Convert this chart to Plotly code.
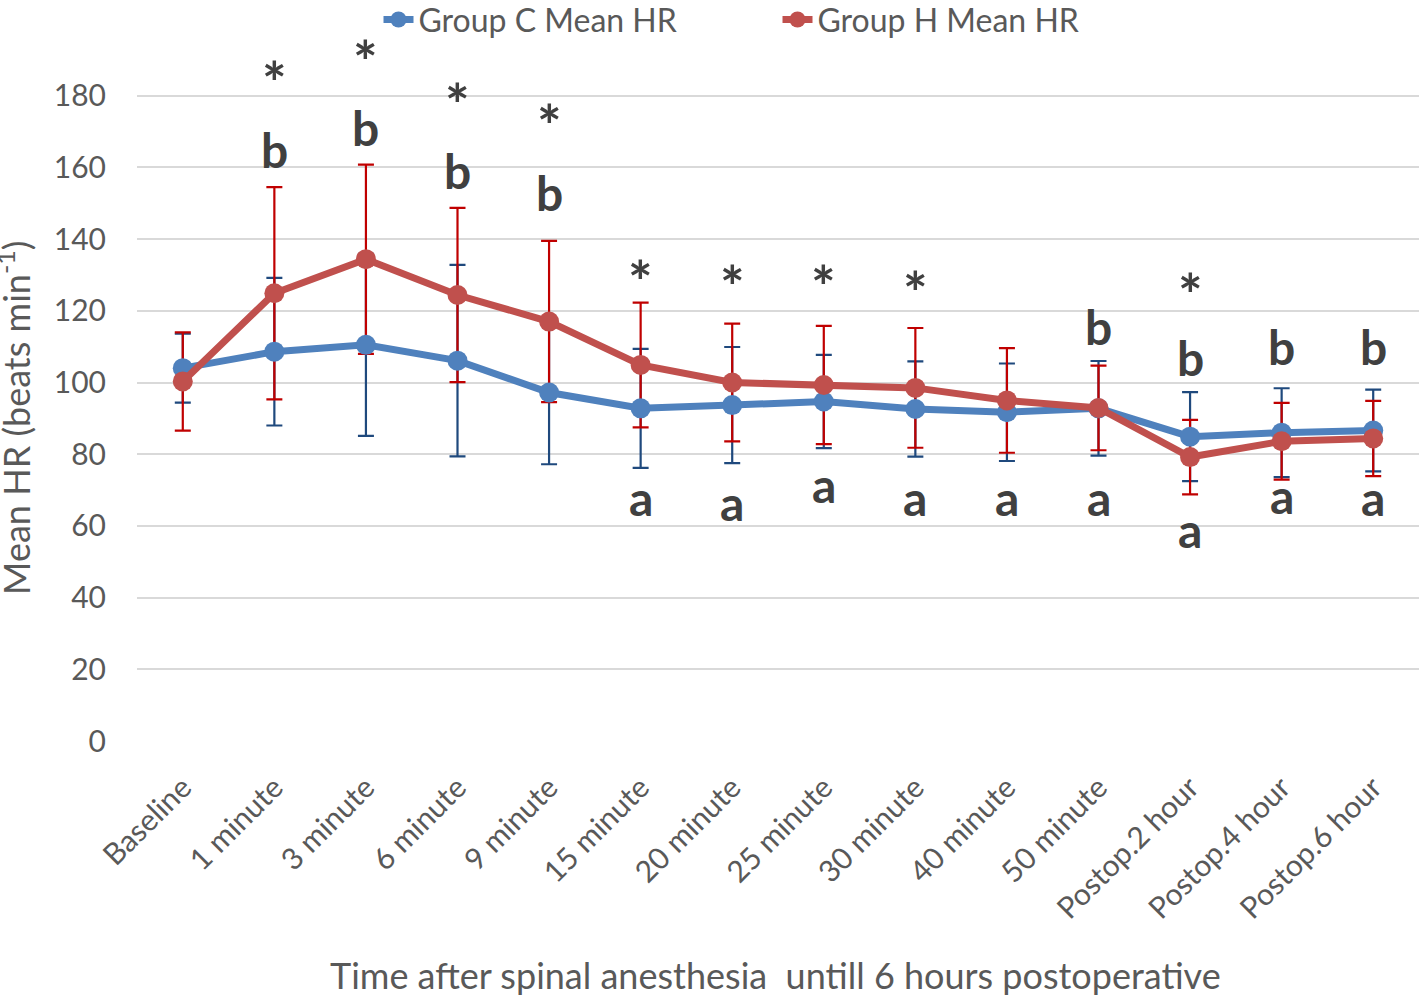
import plotly.graph_objects as go

categories = ["Baseline", "1 minute", "3 minute", "6 minute", "9 minute", "15 minute",
              "20 minute", "25 minute", "30 minute", "40 minute", "50 minute",
              "Postop.2 hour", "Postop.4 hour", "Postop.6 hour"]

c_mean = [104.0, 108.6, 110.5, 106.1, 97.2, 92.8, 93.7, 94.7, 92.6, 91.7, 92.8, 84.9, 86.0, 86.6]
c_sd = [9.6, 20.6, 25.4, 26.7, 20.0, 16.6, 16.2, 13.0, 13.3, 13.6, 13.2, 12.4, 12.4, 11.4]

h_mean = [100.3, 124.9, 134.4, 124.4, 117.0, 104.9, 100.0, 99.3, 98.5, 95.0, 92.9, 79.2, 83.6, 84.4]
h_sd = [13.7, 29.6, 26.4, 24.3, 22.5, 17.4, 16.4, 16.5, 16.7, 14.6, 11.8, 10.4, 10.7, 10.5]

# significance labels: (category, text, label height in axis units)
sig_labels = [
    ("1 minute", "*", 187), ("1 minute", "b", 165),
    ("3 minute", "*", 193), ("3 minute", "b", 171),
    ("6 minute", "*", 181), ("6 minute", "b", 159),
    ("9 minute", "*", 175), ("9 minute", "b", 153),
    ("15 minute", "*", 131.5), ("15 minute", "a", 68),
    ("20 minute", "*", 130), ("20 minute", "a", 66.5),
    ("25 minute", "*", 130), ("25 minute", "a", 71.5),
    ("30 minute", "*", 128.5), ("30 minute", "a", 68),
    ("40 minute", "a", 68),
    ("50 minute", "b", 115.5), ("50 minute", "a", 68),
    ("Postop.2 hour", "*", 128), ("Postop.2 hour", "b", 107), ("Postop.2 hour", "a", 59),
    ("Postop.4 hour", "b", 110), ("Postop.4 hour", "a", 68.5),
    ("Postop.6 hour", "b", 110), ("Postop.6 hour", "a", 68),
]

y_ticks = [0, 20, 40, 60, 80, 100, 120, 140, 160, 180]

BLUE = "#4F81BD"
RED = "#C0504D"
BLUE_ERR = "#1F497D"
RED_ERR = "#C00000"
FONT = "Lato"
GREY = "#595959"

fig = go.Figure()

# error bars first so that all markers sit above them
fig.add_trace(go.Scatter(
    x=categories, y=c_mean, mode="markers",
    marker=dict(size=1, color="rgba(0,0,0,0)"),
    error_y=dict(type="data", array=c_sd, visible=True, color=BLUE_ERR, thickness=2.2, width=8),
    showlegend=False, hoverinfo="skip"))
fig.add_trace(go.Scatter(
    x=categories, y=h_mean, mode="markers",
    marker=dict(size=1, color="rgba(0,0,0,0)"),
    error_y=dict(type="data", array=h_sd, visible=True, color=RED_ERR, thickness=2.2, width=8),
    showlegend=False, hoverinfo="skip"))

fig.add_trace(go.Scatter(
    x=categories, y=c_mean, mode="lines+markers", name="Group C Mean HR",
    line=dict(color=BLUE, width=7), marker=dict(color=BLUE, size=20)))
fig.add_trace(go.Scatter(
    x=categories, y=h_mean, mode="lines+markers", name="Group H Mean HR",
    line=dict(color=RED, width=7), marker=dict(color=RED, size=20)))

for cat, txt, yv in sig_labels:
    star = txt == "*"
    fig.add_annotation(x=cat, y=yv, text=txt, showarrow=False,
                       font=dict(family=FONT, size=58 if star else 48, color="#404040", weight="bold"),
                       xanchor="center", yanchor="middle", yshift=-11 if star else 0)

fig.add_annotation(xref="paper", yref="paper", x=0.498, y=-0.326,
                   text="Time after spinal anesthesia  untill 6 hours postoperative",
                   showarrow=False, xanchor="center", yanchor="middle",
                   font=dict(family=FONT, size=36, color=GREY))
fig.add_annotation(xref="paper", yref="paper", x=-0.0955, y=0.45,
                   text="Mean HR (beats min<sup>-1</sup>)", textangle=-90,
                   showarrow=False, xanchor="center", yanchor="middle",
                   font=dict(family=FONT, size=36, color=GREY))

fig.update_layout(
    width=1424, height=996,
    paper_bgcolor="white", plot_bgcolor="white",
    margin=dict(l=137, r=5, t=24, b=255, autoexpand=False),
    font=dict(family=FONT, color=GREY, size=30),
    legend=dict(orientation="h", xref="container", yref="paper", x=0.546, y=1.006,
                xanchor="center", yanchor="middle", font=dict(size=32, color=GREY),
                entrywidth=354, entrywidthmode="pixels", bgcolor="rgba(0,0,0,0)"),
    xaxis=dict(type="category", range=[-0.5, 13.5], showgrid=False, showline=False,
               zeroline=False, ticks="", tickangle=-45, ticklabelstandoff=22,
               tickfont=dict(size=30, color=GREY), automargin=False),
    yaxis=dict(range=[0, 200], tickvals=y_ticks, showgrid=True, gridcolor="#D9D9D9",
               gridwidth=2, zeroline=False, showline=False, ticks="",
               ticklabelstandoff=30, tickfont=dict(size=30, color=GREY), automargin=False),
)

fig.write_html("out.html", post_script="document.body.style.margin='0';",
               config={"displayModeBar": False})
